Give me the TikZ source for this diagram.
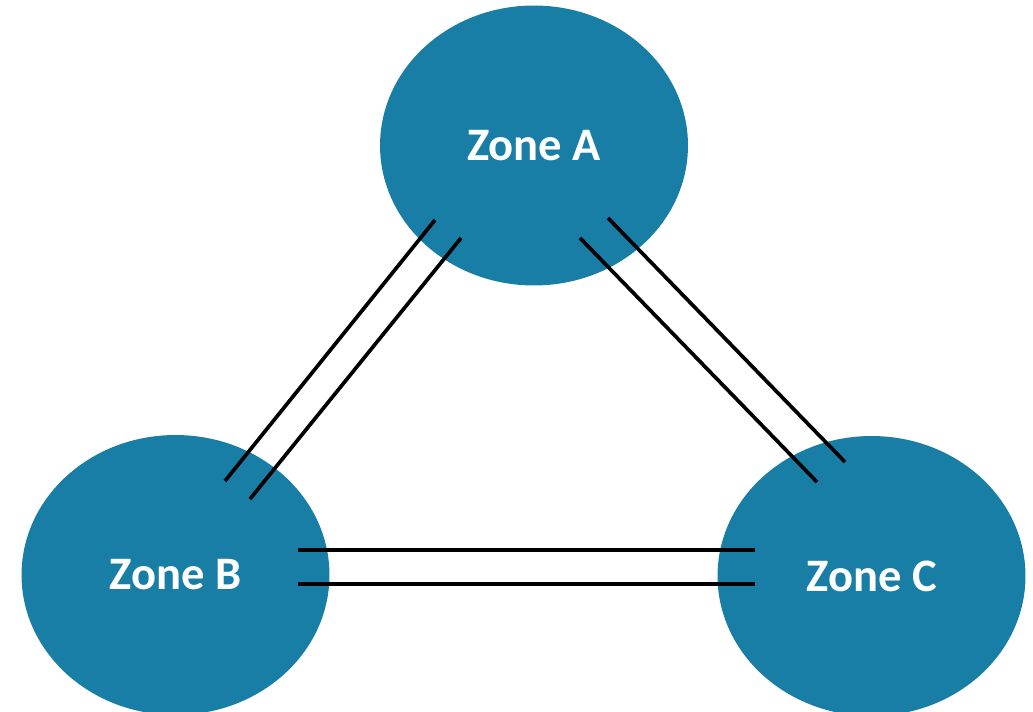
\documentclass[tikz,border=0pt]{standalone}
\usepackage{fontspec}
\setmainfont{Carlito}
\usetikzlibrary{shapes.geometric,calc}
\definecolor{zoneblue}{HTML}{197EA6}
\begin{document}
\begin{tikzpicture}[x=0.02cm,y=-0.02cm,
  zone/.style={ellipse,fill=zoneblue,draw=none,minimum width=6.16cm,minimum height=5.6cm,inner sep=0pt,
    font=\fontsize{26.5}{31}\selectfont\bfseries,text=white},
  link/.style={draw=black,line width=2.1pt}]
\useasboundingbox (0,0) rectangle (1033,712);
\clip (0,0) rectangle (1033,712);
\node[zone] (A) at (534,145.5) {Zone A};
\node[zone] (B) at (175.5,575) {Zone B};
\node[zone] (C) at (871.5,576) {Zone C};
% A -- B
\draw[link] ($(A)+(-99,74.5)$) -- ($(B)+(49.5,-94)$);
\draw[link] ($(A)+(-73,92.5)$) -- ($(B)+(74.5,-76)$);
% A -- C
\draw[link] ($(A)+(46,92.5)$) -- ($(C)+(-54.5,-94)$);
\draw[link] ($(A)+(74,72.5)$) -- ($(C)+(-26.5,-114)$);
% B -- C
\draw[link] ($(B)+(122.5,-25)$) -- ($(C)+(-116.5,-26)$);
\draw[link] ($(B)+(122.5,9)$) -- ($(C)+(-116.5,8)$);
\end{tikzpicture}
\end{document}
